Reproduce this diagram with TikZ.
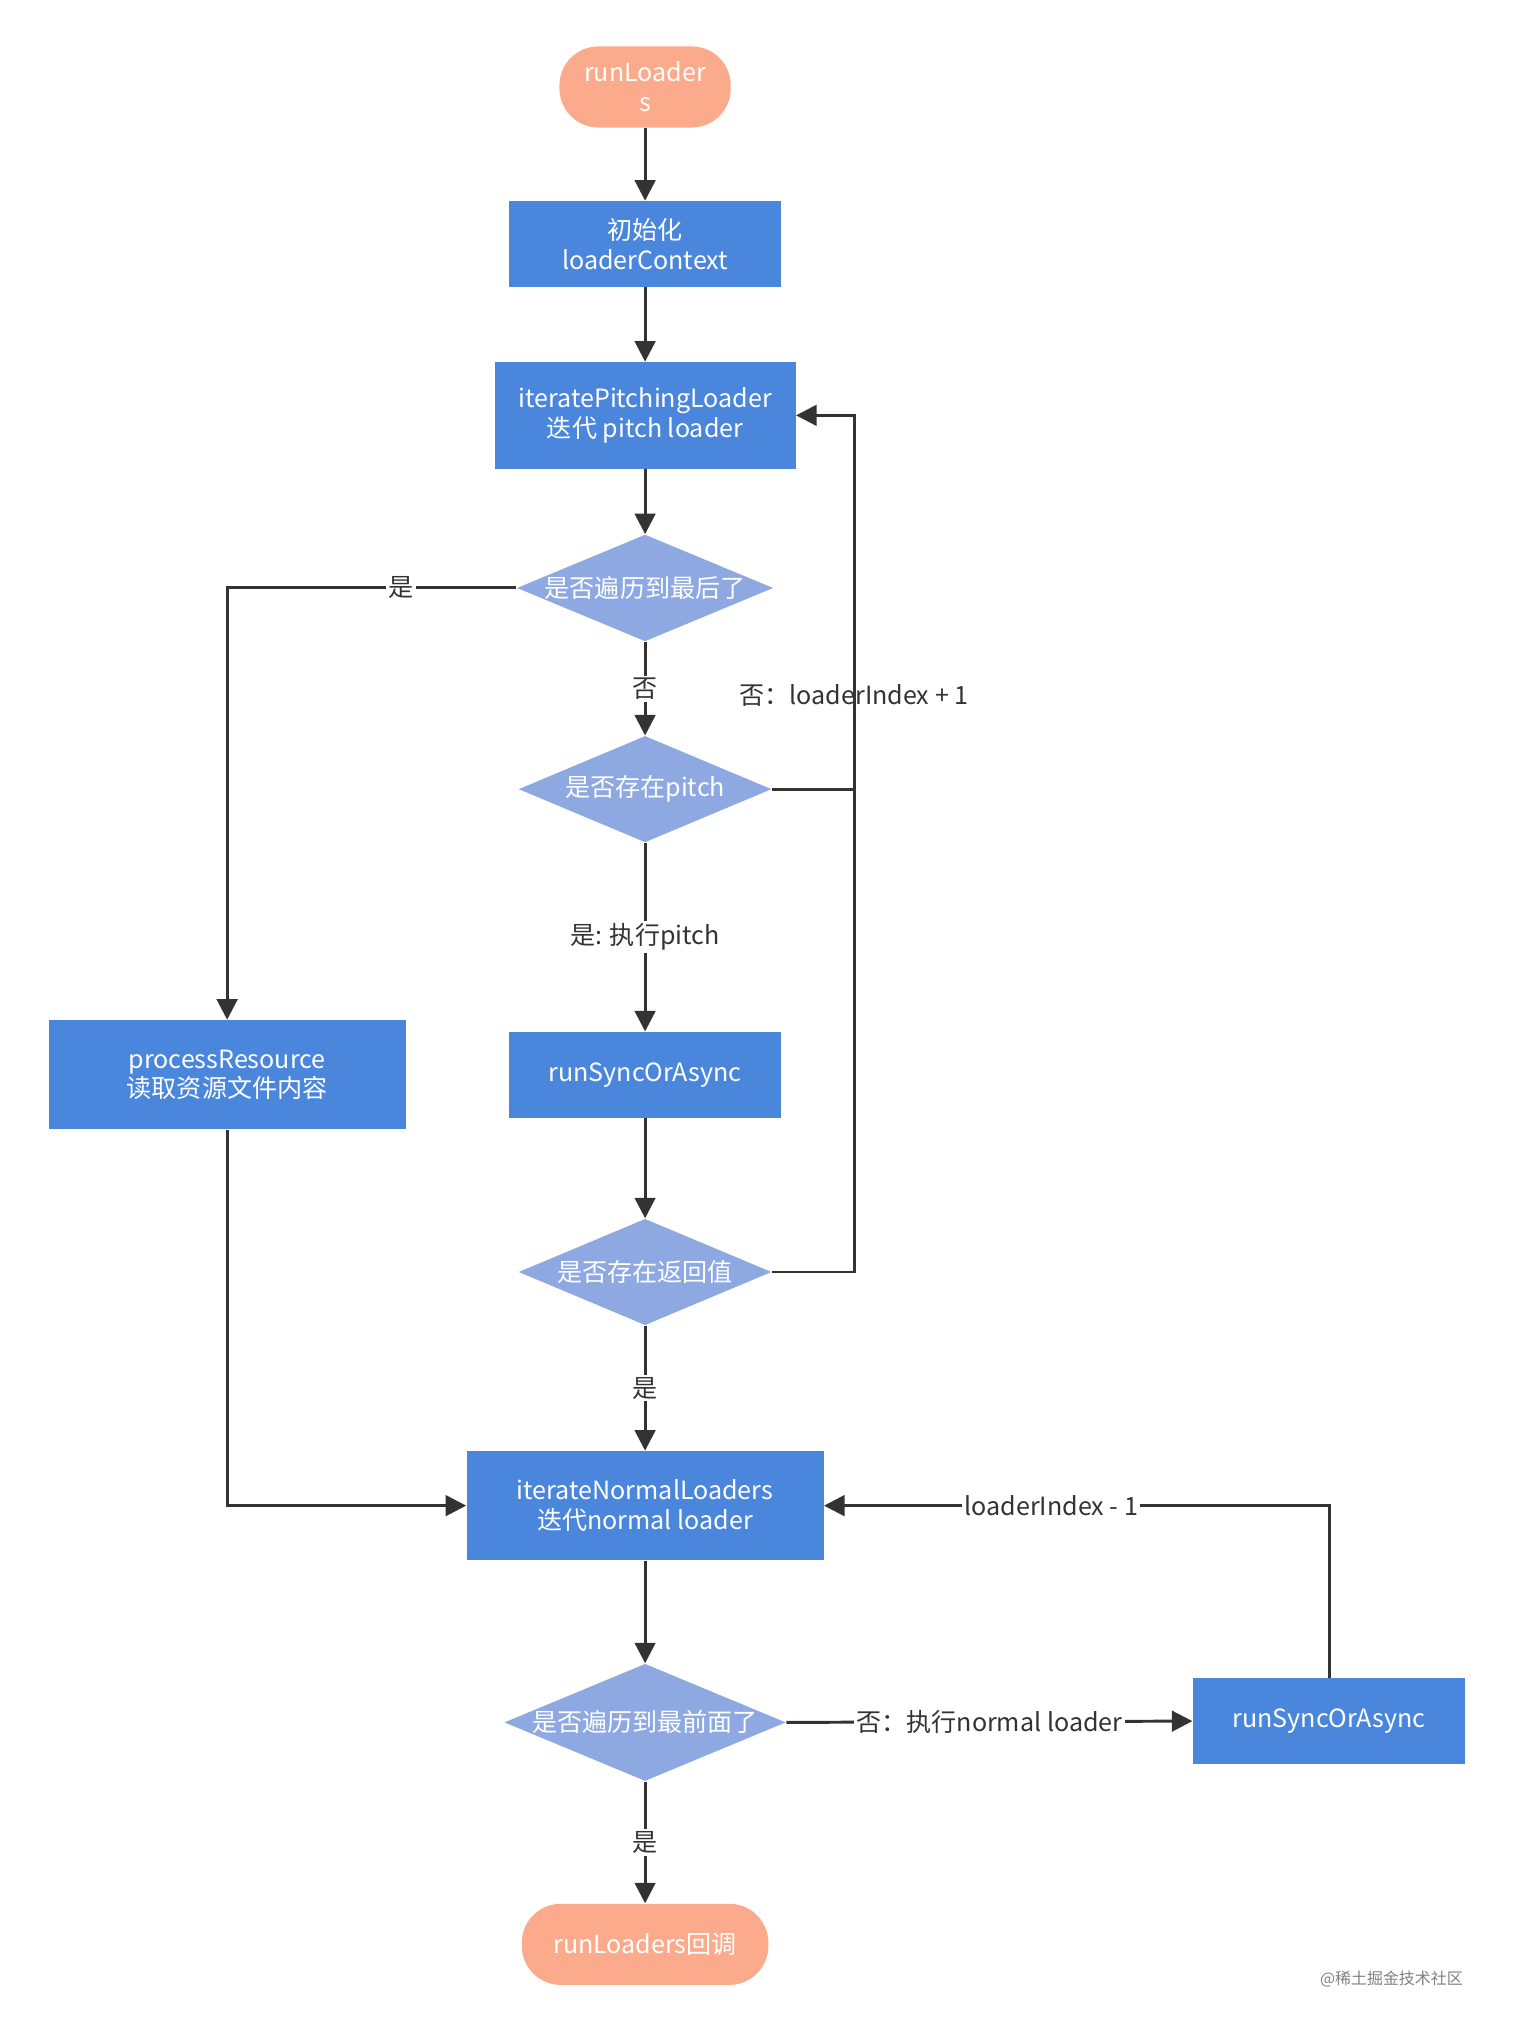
\documentclass[tikz,border=0pt]{standalone}
\usepackage{fontspec}
\setmainfont{Noto Sans CJK SC}
\usetikzlibrary{arrows.meta,shapes.geometric}
\definecolor{boxblue}{HTML}{4A86DB}
\definecolor{diablue}{HTML}{8EA9E1}
\definecolor{salmon}{HTML}{FCAA8C}
\definecolor{edge}{HTML}{333333}
\tikzset{
  proc/.style={draw=none,fill=boxblue,text=white,align=center,minimum width=4.2cm,minimum height=1.32cm,inner sep=1pt,font=\fontsize{11}{13}\selectfont},
  cond/.style={diamond,aspect=2.4,fill=diablue,text=white,minimum width=3.9cm,minimum height=1.64cm,inner sep=0pt,font=\fontsize{11}{13}\selectfont},
  term/.style={rounded corners=0.6cm,fill=salmon,text=white,align=center,minimum height=1.25cm,font=\fontsize{11}{13}\selectfont},
  flow/.style={draw=edge,line width=1.3pt,-{Triangle[length=9pt,width=9pt]}},
  lbl/.style={fill=white,inner sep=1pt,text=edge,font=\fontsize{11}{13}\selectfont},
}
\begin{document}
\begin{tikzpicture}[x=0.02cm,y=-0.02cm]
\useasboundingbox (0,0) rectangle (1165,1564);
% nodes
\node[term,minimum width=2.64cm] (start) at (497,67) {runLoader\\s};
\node[proc] (init) at (497,188) {初始化\\loaderContext};
\node[proc,minimum width=4.64cm,minimum height=1.64cm] (pitch) at (497,320) {iteratePitchingLoader\\迭代 pitch loader};
\node[cond] (last) at (497,453) {是否遍历到最后了};
\node[cond] (haspitch) at (497,608) {是否存在pitch};
\node[proc] (run1) at (497,828) {runSyncOrAsync};
\node[cond] (ret) at (497,980) {是否存在返回值};
\node[proc,minimum width=5.5cm,minimum height=1.68cm] (res) at (175,828) {processResource\\读取资源文件内容};
\node[proc,minimum width=5.5cm,minimum height=1.68cm] (normal) at (497,1160) {iterateNormalLoaders\\迭代normal loader};
\node[cond,minimum width=4.1cm,minimum height=1.6cm] (first) at (497,1327) {是否遍历到最前面了};
\node[proc] (run2) at (1024,1326) {runSyncOrAsync};
\node[term,minimum width=3.8cm] (finish) at (497,1498) {runLoaders回调};
\coordinate (c1) at (175,453);
\coordinate (c2) at (658,608);
\coordinate (c3) at (658,980);
\coordinate (c4) at (658,320);
\coordinate (c5) at (175,1160);
\coordinate (c6) at (1024,1160);
% edges
\draw[flow] (start) -- (init);
\draw[flow] (init) -- (pitch);
\draw[flow] (pitch) -- (last);
\draw[flow] (last) -- node[lbl] {否} (haspitch);
\draw[flow] (haspitch) -- node[lbl,pos=0.5] {是: 执行pitch} (run1);
\draw[flow] (run1) -- (ret);
\draw[flow] (ret) -- node[lbl] {是} (normal);
\draw[flow] (last.west) -- node[lbl,pos=0.4] {是} (c1) -- (res.north);
\draw[flow] (res.south) -- (c5) -- (normal.west);
\draw[draw=edge,line width=1.3pt] (haspitch.east) -- (c2);
\draw[flow] (ret.east) -- (c3) -- (c4) -- (pitch.east);
\node[text=edge,font=\fontsize{11}{13}\selectfont] (l1) at (658,536) {否：loaderIndex + 1};
\draw[flow] (normal) -- (first);
\draw[flow] (first.east) -- node[lbl] {否：执行normal loader} (run2.west);
\draw[flow] (run2.north) -- (c6) -- node[lbl,pos=0.55] {loaderIndex - 1} (normal.east);
\draw[flow] (first) -- node[lbl] {是} (finish);
\node[text=gray,font=\fontsize{7}{9}\selectfont] (wm) at (1072,1525) {@稀土掘金技术社区};
\end{tikzpicture}
\end{document}
